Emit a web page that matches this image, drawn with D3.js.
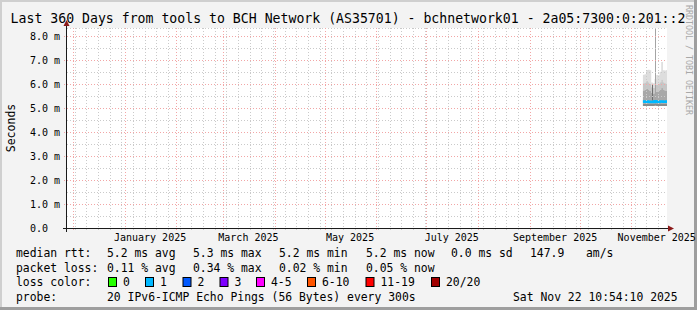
<!DOCTYPE html>
<html>
<head>
<meta charset="utf-8">
<script src="https://cdn.jsdelivr.net/npm/d3@7"></script>
<style>
body { margin: 0; background: #f3f3f3; }
text { font-family: "DejaVu Sans Mono", monospace; fill: #000; }
</style>
</head>
<body>
<svg id="chart" width="697" height="310"></svg>
<script>
// graph window (360 days ending at the graph time)
var startTime = "2024-11-27T10:54:10Z",
    endTime = "2025-11-22T10:54:10Z";

// daily consolidated smoke, seconds in ms units
var days = ["2025-11-08", "2025-11-09", "2025-11-10", "2025-11-11", "2025-11-12",
            "2025-11-13", "2025-11-14", "2025-11-15", "2025-11-16", "2025-11-17",
            "2025-11-18", "2025-11-19", "2025-11-20", "2025-11-21", "2025-11-22"];
var rttMin    = [5.08, 5.07, 5.08, 5.07, 5.08, 5.07, 5.08, 5.09, 5.08, 5.07, 5.08, 5.08, 5.07, 5.08, 5.08];
var rttP25    = [5.18, 5.17, 5.18, 5.17, 5.17, 5.18, 5.17, 5.19, 5.18, 5.17, 5.18, 5.18, 5.17, 5.18, 5.18];
var rttMedian = [5.26, 5.25, 5.26, 5.25, 5.24, 5.25, 5.24, 5.27, 5.25, 5.24, 5.26, 5.26, 5.25, 5.25, 5.26];
var rttP75    = [5.72, 5.75, 5.80, 5.76, 5.70, 5.62, 5.60, 5.72, 5.66, 5.70, 5.75, 5.82, 5.76, 5.72, 5.70];
var rttP90    = [6.02, 6.05, 6.12, 6.06, 6.00, 5.86, 5.82, 5.96, 5.96, 6.00, 6.06, 6.18, 6.06, 6.02, 6.00];
var rttMax    = [6.38, 6.40, 6.57, 6.58, 6.56, 6.05, 6.02, 6.20, 6.36, 6.35, 6.50, 6.90, 6.56, 6.55, 6.57];

// single outliers
var spikeTimes = ["2025-11-13T10:00:00Z", "2025-11-15T07:00:00Z"];
var spikeTops = [5.95, 8.60];

var yTicks = [0, 1, 2, 3, 4, 5, 6, 7, 8];
var yTickLabels = ["0.0", "1.0 m", "2.0 m", "3.0 m", "4.0 m", "5.0 m", "6.0 m", "7.0 m", "8.0 m"];
var monthLabelTimes = ["2025-01-16T00:00:00Z", "2025-03-16T00:00:00Z", "2025-05-16T00:00:00Z",
                       "2025-07-16T00:00:00Z", "2025-09-16T00:00:00Z", "2025-11-16T00:00:00Z"];
var monthLabels = ["January 2025", "March 2025", "May 2025", "July 2025", "September 2025", "November 2025"];

var rttLegend = ["median rtt:", "5.2 ms avg", "5.3 ms max", "5.2 ms min", "5.2 ms now", "0.0 ms sd", "147.9", "am/s"];
var lossLegend = ["packet loss:", "0.11 % avg", "0.34 % max", "0.02 % min", "0.05 % now"];
var lossLabels = ["0", "1", "2", "3", "4-5", "6-10", "11-19", "20/20"];
var lossColors = ["#26ff00", "#00b8ff", "#0059ff", "#7e00ff", "#ff00ff", "#ff5500", "#ff0000", "#a10000"];
var probeLegend = ["probe:", "20 IPv6-ICMP Echo Pings (56 Bytes) every 300s", "Sat Nov 22 10:54:10 2025"];

var title = "Last 360 Days from tools to BCH Network (AS35701) - bchnetwork01 - 2a05:7300:0:201::2";

var svg = d3.select("#chart"),
    width = +svg.attr("width"),
    height = +svg.attr("height"),
    plot = {left: 67, right: 667, top: 28, bottom: 228};

var x = d3.scaleUtc()
    .domain([new Date(startTime), new Date(endTime)])
    .range([plot.left, plot.right]);
var y = d3.scaleLinear()
    .domain([0, 200 / 24.04])
    .range([plot.bottom, plot.top]);

// frame
svg.append("rect").attr("width", width).attr("height", height).attr("fill", "#f3f3f3");
svg.append("path").attr("d", "M1,310V1H697").attr("fill", "none").attr("stroke", "#cfcfcf").attr("stroke-width", 2);
svg.append("path").attr("d", "M0,308.5H695.5V0").attr("fill", "none").attr("stroke", "#9e9e9e").attr("stroke-width", 3);

svg.append("rect")
    .attr("x", plot.left).attr("y", plot.top)
    .attr("width", plot.right - plot.left).attr("height", plot.bottom - plot.top)
    .attr("fill", "#ffffff");

svg.append("clipPath").attr("id", "clip")
    .append("rect")
    .attr("x", plot.left).attr("y", plot.top)
    .attr("width", plot.right - plot.left).attr("height", plot.bottom - plot.top);

// smoke
var rows = days.map(function (d, i) {
    return {t: new Date(d + "T00:00:00Z"), min: rttMin[i], p25: rttP25[i], med: rttMedian[i],
            p75: rttP75[i], p90: rttP90[i], max: rttMax[i]};
});
// hold the last value up to the graph end
rows.push(Object.assign({}, rows[rows.length - 1], {t: x.domain()[1]}));

var smoke = svg.append("g").attr("clip-path", "url(#clip)");

var bands = [["p90", "max", "#dddddd"], ["p75", "p90", "#c6c6c6"], ["med", "p75", "#a8a8a8"],
             ["p25", "med", "#a0a0a0"], ["min", "p25", "#8a8a8a"]];
bands.forEach(function (b) {
    smoke.append("path")
        .datum(rows)
        .attr("fill", b[2])
        .attr("d", d3.area()
            .curve(d3.curveStepAfter)
            .x(function (d) { return x(d.t); })
            .y0(function (d) { return y(d[b[0]]); })
            .y1(function (d) { return y(d[b[1]]); }));
});

smoke.selectAll("line.spike")
    .data(spikeTimes)
    .enter().append("line")
    .attr("class", "spike")
    .attr("x1", function (d) { return Math.round(x(new Date(d))) + 0.5; })
    .attr("x2", function (d) { return Math.round(x(new Date(d))) + 0.5; })
    .attr("y1", y(5.3))
    .attr("y2", function (d, i) { return y(spikeTops[i]); })
    .attr("stroke", function (d, i) { return i == 0 ? "#6e6e6e" : "#a4a4a4"; })
    .attr("stroke-width", 1);

smoke.append("path")
    .datum(rows)
    .attr("fill", "none")
    .attr("stroke", lossColors[1])
    .attr("stroke-width", 2.5)
    .attr("d", d3.line()
        .curve(d3.curveStepAfter)
        .x(function (d) { return x(d.t); })
        .y(function (d) { return y(d.med); }));

// grid
var grid = svg.append("g").attr("shape-rendering", "crispEdges");
var minorY = y.ticks(17).filter(function (v) { return v % 1 != 0; }).concat([y.domain()[1]]);
var minorColor = "#cacaca", majorColor = "#f2a6a6";

grid.selectAll("line.hminor").data(minorY).enter().append("line")
    .attr("x1", plot.left).attr("x2", plot.right)
    .attr("y1", function (d) { return Math.round(y(d)) + 0.5; })
    .attr("y2", function (d) { return Math.round(y(d)) + 0.5; })
    .attr("stroke", minorColor).attr("stroke-dasharray", "1,2");

var weeks = d3.utcMonday.range(x.domain()[0], x.domain()[1]);
grid.selectAll("line.vminor").data(weeks).enter().append("line")
    .attr("x1", function (d) { return Math.round(x(d)) + 0.5; })
    .attr("x2", function (d) { return Math.round(x(d)) + 0.5; })
    .attr("y1", plot.top).attr("y2", plot.bottom + 2)
    .attr("stroke", minorColor).attr("stroke-dasharray", "1,2");

grid.selectAll("line.hmajor").data(yTicks.slice(1)).enter().append("line")
    .attr("x1", plot.left - 3).attr("x2", plot.right)
    .attr("y1", function (d) { return Math.round(y(d)) + 0.5; })
    .attr("y2", function (d) { return Math.round(y(d)) + 0.5; })
    .attr("stroke", majorColor).attr("stroke-dasharray", "1,2");

var months = d3.utcMonth.range(x.domain()[0], x.domain()[1]);
grid.selectAll("line.vmajor").data(months).enter().append("line")
    .attr("x1", function (d) { return Math.round(x(d)) + 0.5; })
    .attr("x2", function (d) { return Math.round(x(d)) + 0.5; })
    .attr("y1", plot.top).attr("y2", plot.bottom + 3)
    .attr("stroke", majorColor).attr("stroke-dasharray", "1,2");

// axes
var xAxis = svg.append("g")
    .attr("transform", "translate(0," + plot.bottom + ")")
    .call(d3.axisBottom(x)
        .tickValues(monthLabelTimes.map(function (d) { return new Date(d); }))
        .tickSize(0).tickPadding(0)
        .tickFormat(function (d, i) { return monthLabels[i]; }));
xAxis.select(".domain").remove();
xAxis.selectAll("text")
    .attr("y", 12.5).attr("dy", null)
    .style("font-family", "'DejaVu Sans Mono', monospace").style("font-size", "10px").attr("fill", "#000");

var yAxis = svg.append("g")
    .attr("transform", "translate(" + plot.left + ",0)")
    .call(d3.axisLeft(y)
        .tickValues(yTicks)
        .tickSize(0).tickPadding(0)
        .tickFormat(function (d, i) { return yTickLabels[i]; }));
yAxis.select(".domain").remove();
yAxis.selectAll("text")
    .attr("text-anchor", "start").attr("x", 30 - plot.left).attr("dy", "0.35em")
    .style("font-family", "'DejaVu Sans Mono', monospace").style("font-size", "10px").attr("fill", "#000");

svg.append("line")
    .attr("x1", plot.left - 4).attr("x2", plot.right + 1)
    .attr("y1", plot.bottom + 0.5).attr("y2", plot.bottom + 0.5)
    .attr("stroke", "#1a1a1a");
svg.append("line")
    .attr("x1", plot.left - 0.5).attr("x2", plot.left - 0.5)
    .attr("y1", plot.bottom + 4).attr("y2", plot.top - 2)
    .attr("stroke", "#1a1a1a");
svg.append("path")
    .attr("d", "M" + (plot.right + 1) + "," + (plot.bottom - 2.5) + "L" + (plot.right + 7) + "," + (plot.bottom + 0.5) +
               "L" + (plot.right + 1) + "," + (plot.bottom + 3.5) + "Z")
    .attr("fill", "#8b1a1a");
svg.append("path")
    .attr("d", "M" + (plot.left - 3.5) + "," + (plot.top - 2) + "L" + (plot.left - 0.5) + "," + (plot.top - 8) +
               "L" + (plot.left + 2.5) + "," + (plot.top - 2) + "Z")
    .attr("fill", "#8b1a1a");

// titles
svg.append("text")
    .attr("x", 348).attr("y", 23)
    .attr("text-anchor", "middle")
    .style("font-size", "13.2px")
    .text(title);

svg.append("text")
    .attr("transform", "translate(15,128) rotate(-90)")
    .attr("text-anchor", "middle")
    .style("font-size", "11.5px")
    .text("Seconds");

svg.append("text")
    .attr("transform", "translate(685.5,5) rotate(90)")
    .style("font-size", "8.3px")
    .style("fill", "#a8a8a8")
    .text("RRDTOOL / TOBI OETIKER");

// legend
var legend = svg.append("g").style("font-size", "11.4px");
var rttX = [16, 107, 193, 279, 366, 451, 530, 586];
legend.selectAll("text.rtt").data(rttLegend).enter().append("text")
    .attr("x", function (d, i) { return rttX[i]; }).attr("y", 257)
    .text(function (d) { return d; });

legend.selectAll("text.loss").data(lossLegend).enter().append("text")
    .attr("x", function (d, i) { return rttX[i]; }).attr("y", 271.5)
    .text(function (d) { return d; });

legend.append("text").attr("x", 16).attr("y", 286).text("loss color:");
var boxX = [108, 145, 182.5, 219.5, 256, 307, 365.5, 431];
legend.selectAll("rect.box").data(lossColors).enter().append("rect")
    .attr("x", function (d, i) { return boxX[i] + 0.5; }).attr("y", 277.5)
    .attr("width", 8).attr("height", 9)
    .attr("fill", function (d) { return d; })
    .attr("stroke", "#000").attr("stroke-width", 1);
legend.selectAll("text.box").data(lossLabels).enter().append("text")
    .attr("x", function (d, i) { return boxX[i] + 15; }).attr("y", 286)
    .text(function (d) { return d; });

var probeX = [16, 107, 513];
legend.selectAll("text.probe").data(probeLegend).enter().append("text")
    .attr("x", function (d, i) { return probeX[i]; }).attr("y", 300.5)
    .text(function (d) { return d; });
</script>
</body>
</html>
